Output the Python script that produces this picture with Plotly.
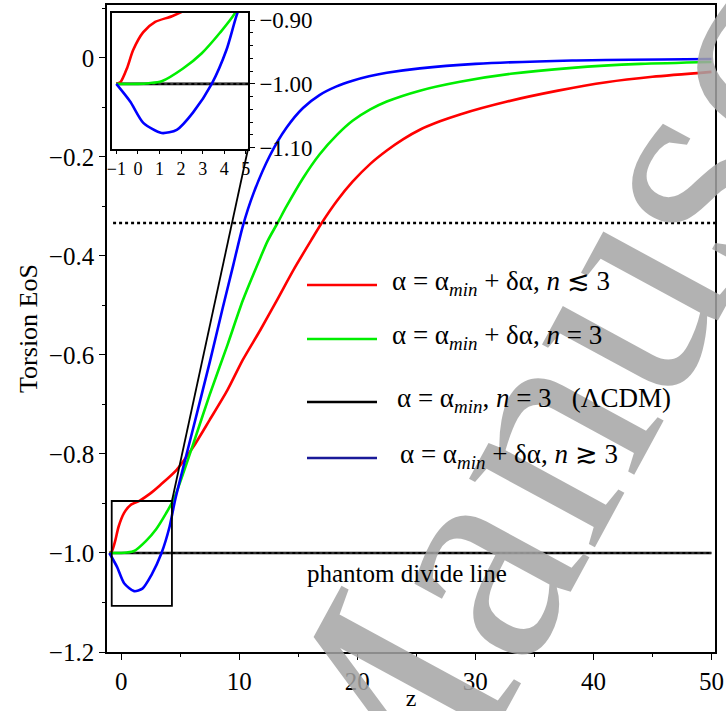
import plotly.graph_objects as go

# ---------------- data ----------------
z_red = [-1.0, -0.8, -0.5, -0.22, 0.25, 0.8, 1.58, 2.45, 3.3, 4.7, 6.1, 7.5, 9.0, 10.3,
         11.8, 13.2, 14.6, 16.1, 17.0, 18.3, 19.6, 21.1, 22.5, 23.9, 25.3, 27.0, 28.7,
         32.7, 37.0, 41.1, 45.0, 50.0]
w_red = [-1.0, -0.997, -0.975, -0.947, -0.919, -0.903, -0.894, -0.880, -0.863, -0.832,
         -0.786, -0.731, -0.671, -0.610, -0.549, -0.489, -0.428, -0.368, -0.333, -0.288,
         -0.250, -0.214, -0.187, -0.164, -0.145, -0.128, -0.114, -0.088, -0.066, -0.049,
         -0.038, -0.028]

z_green = [-1.0, 0.0, 0.5, 1.1, 2.09, 2.96, 3.8, 4.48, 6.1, 7.5, 9.0, 10.3, 11.8, 12.4,
           13.3, 14.0, 15.4, 16.8, 18.3, 19.6, 21.1, 22.5, 25.3, 28.7, 33.0, 38.2, 44.0,
           50.0]
w_green = [-1.0, -1.0, -0.999, -0.996, -0.976, -0.952, -0.920, -0.890, -0.780, -0.680,
           -0.580, -0.490, -0.403, -0.370, -0.331, -0.300, -0.243, -0.195, -0.155, -0.127,
           -0.104, -0.088, -0.066, -0.048, -0.032, -0.020, -0.012, -0.008]

z_blue = [-1.0, -0.35, 0.25, 1.1, 1.8, 2.55, 3.42, 4.1, 4.58, 6.1, 7.5, 8.6, 9.5, 10.3,
          11.2, 12.6, 14.0, 15.4, 16.8, 18.2, 19.6, 21.0, 22.5, 25.3, 30.0, 38.2, 50.0]
w_blue = [-1.0, -1.028, -1.061, -1.077, -1.072, -1.045, -1.0, -0.947, -0.892, -0.748,
          -0.615, -0.505, -0.418, -0.340, -0.274, -0.197, -0.141, -0.101, -0.075, -0.058,
          -0.046, -0.037, -0.030, -0.021, -0.012, -0.005, -0.002]

z_lcdm = [-1.0, 50.0]
w_lcdm = [-1.0, -1.0]

w_radiation_line = -1.0 / 3.0

main_xticks = [0, 10, 20, 30, 40, 50]
main_yticks = [0, -0.2, -0.4, -0.6, -0.8, -1.0, -1.2]
main_yticktext = ["0", "\u22120.2", "\u22120.4", "\u22120.6", "\u22120.8", "\u22121.0", "\u22121.2"]
inset_xticks = [-1, 0, 1, 2, 3, 4, 5]
inset_yticks = [-0.9, -1.0, -1.1]
inset_yticktext = ["\u22120.90", "\u22121.00", "\u22121.10"]

legend_labels = [
    "\u03b1 = \u03b1<sub><i>min</i></sub> + \u03b4\u03b1, <i>n</i> \u2272 3",
    "\u03b1 = \u03b1<sub><i>min</i></sub> + \u03b4\u03b1, <i>n</i> = 3",
    "\u03b1 = \u03b1<sub><i>min</i></sub>, <i>n</i> = 3   (\u039bCDM)",
    "\u03b1 = \u03b1<sub><i>min</i></sub> + \u03b4\u03b1, <i>n</i> \u2273 3",
]
legend_colors = ["#ff0000", "#00ee00", "#000000", "#1a1a99"]

# ---------------- layout geometry ----------------
W, H = 726, 711
ML, MR, MT, MB = 107, 11, 5, 59
PW, PH = W - ML - MR, H - MT - MB

def px2paper(px, py):
    return (px - ML) / PW, (H - MB - py) / PH

X_RANGE = [-1.2, 50.3]
Y_RANGE = [-1.2, 0.107]
INSET_X_RANGE = [-1.2, 5.1]
INSET_Y_RANGE = [-1.102, -0.889]
ix0, iy1 = px2paper(112, 13)
ix1, iy0 = px2paper(248, 149)

FONT = "Liberation Serif, Times New Roman, serif"
RED, GREEN, BLUE = "#ff0000", "#00ee00", "#0000ff"

fig = go.Figure()

series = [(z_red, w_red, RED), (z_green, w_green, GREEN), (z_blue, w_blue, BLUE)]
for xa, ya in (("x", "y"), ("x2", "y2")):
    fig.add_trace(go.Scatter(x=z_lcdm, y=w_lcdm, mode="lines",
                             line=dict(color="black", width=2.6), xaxis=xa, yaxis=ya))
    fig.add_trace(go.Scatter(x=z_lcdm, y=w_lcdm, mode="lines",
                             line=dict(color="#555", width=1.2, dash="dot"), xaxis=xa, yaxis=ya))
    for zs, ws, c in series:
        fig.add_trace(go.Scatter(x=zs, y=ws, mode="lines",
                                 line=dict(color=c, width=2.6, shape="spline", smoothing=0.7),
                                 xaxis=xa, yaxis=ya))

axis_common = dict(showline=True, linecolor="black", linewidth=1.6, mirror=True,
                   showgrid=False, zeroline=False, ticks="outside", tickcolor="black",
                   tickwidth=1, automargin=False)

shapes = []
# dotted line at w = -1/3
shapes.append(dict(type="line", xref="paper", yref="y", x0=0.01, x1=1.0,
                   y0=w_radiation_line, y1=w_radiation_line,
                   line=dict(color="black", width=2.5, dash="dot")))
# zoom box on main plot
bx0, bx1, by0, by1 = -0.8, 4.3, -1.107, -0.895
shapes.append(dict(type="rect", xref="x", yref="y", x0=bx0, x1=bx1, y0=by0, y1=by1,
                   line=dict(color="black", width=1.8)))
# connector to inset bottom-right corner
cx = X_RANGE[0] + ix1 * (X_RANGE[1] - X_RANGE[0])
cy = Y_RANGE[0] + iy0 * (Y_RANGE[1] - Y_RANGE[0])
shapes.append(dict(type="line", xref="x", yref="y", x0=bx1, y0=by1, x1=cx, y1=cy,
                   line=dict(color="black", width=1.8)))

annotations = []
# watermark
wx, wy = px2paper(640, 244)
annotations.append(dict(text="Manuscript", xref="paper", yref="paper", x=wx, y=wy,
                        xanchor="center", yanchor="middle", showarrow=False, textangle=-61.5,
                        font=dict(family=FONT, size=312, color="rgba(165,165,165,0.85)")))

# legend
leg_y = [285, 339, 402, 458]
leg_tx = [390, 390, 395, 398]
for yy, tx, lab, col in zip(leg_y, leg_tx, legend_labels, legend_colors):
    lx0, ly = px2paper(307, yy)
    lx1, _ = px2paper(377, yy)
    shapes.append(dict(type="line", xref="paper", yref="paper", x0=lx0, x1=lx1, y0=ly, y1=ly,
                       line=dict(color=col, width=2.5)))
    tx_p, ty_p = px2paper(tx, yy - 2)
    annotations.append(dict(text=lab, xref="paper", yref="paper", x=tx_p, y=ty_p,
                            xanchor="left", yanchor="middle", showarrow=False,
                            font=dict(family=FONT, size=27, color="black")))

px_, py_ = px2paper(407, 573)
annotations.append(dict(text="phantom divide line", xref="paper", yref="paper", x=px_, y=py_,
                        xanchor="center", yanchor="middle", showarrow=False,
                        font=dict(family=FONT, size=25, color="black")))

fig.update_layout(
    width=W, height=H, margin=dict(l=ML, r=MR, t=MT, b=MB, autoexpand=False),
    paper_bgcolor="white", plot_bgcolor="rgba(0,0,0,0)",
    showlegend=False,
    font=dict(family=FONT, size=24, color="black"),
    xaxis=dict(domain=[0, 1], range=X_RANGE, tickvals=main_xticks,
               tickfont=dict(size=25), ticklen=6,
               minor=dict(dtick=5, tick0=0, ticks="outside", ticklen=3, tickcolor="black"),
               title=dict(text="z", font=dict(size=24), standoff=14), **axis_common),
    yaxis=dict(domain=[0, 1], range=Y_RANGE, tickvals=main_yticks, ticktext=main_yticktext,
               tickfont=dict(size=25), ticklen=6,
               minor=dict(dtick=0.1, tick0=0, ticks="outside", ticklen=3, tickcolor="black"),
               title=dict(text="Torsion EoS", font=dict(size=26), standoff=4), **axis_common),
    xaxis2=dict(domain=[ix0, ix1], range=INSET_X_RANGE, anchor="y2", tickvals=inset_xticks,
                tickfont=dict(size=18), ticklen=3, **axis_common),
    yaxis2=dict(domain=[iy0, iy1], range=INSET_Y_RANGE, anchor="x2", side="right",
                tickvals=inset_yticks, ticktext=inset_yticktext, tickfont=dict(size=23),
                ticklen=5,
                minor=dict(dtick=0.02, tick0=-1.0, ticks="outside", ticklen=3, tickcolor="black"),
                **axis_common),
    shapes=shapes,
    annotations=annotations,
)

fig.write_html("out.html")
